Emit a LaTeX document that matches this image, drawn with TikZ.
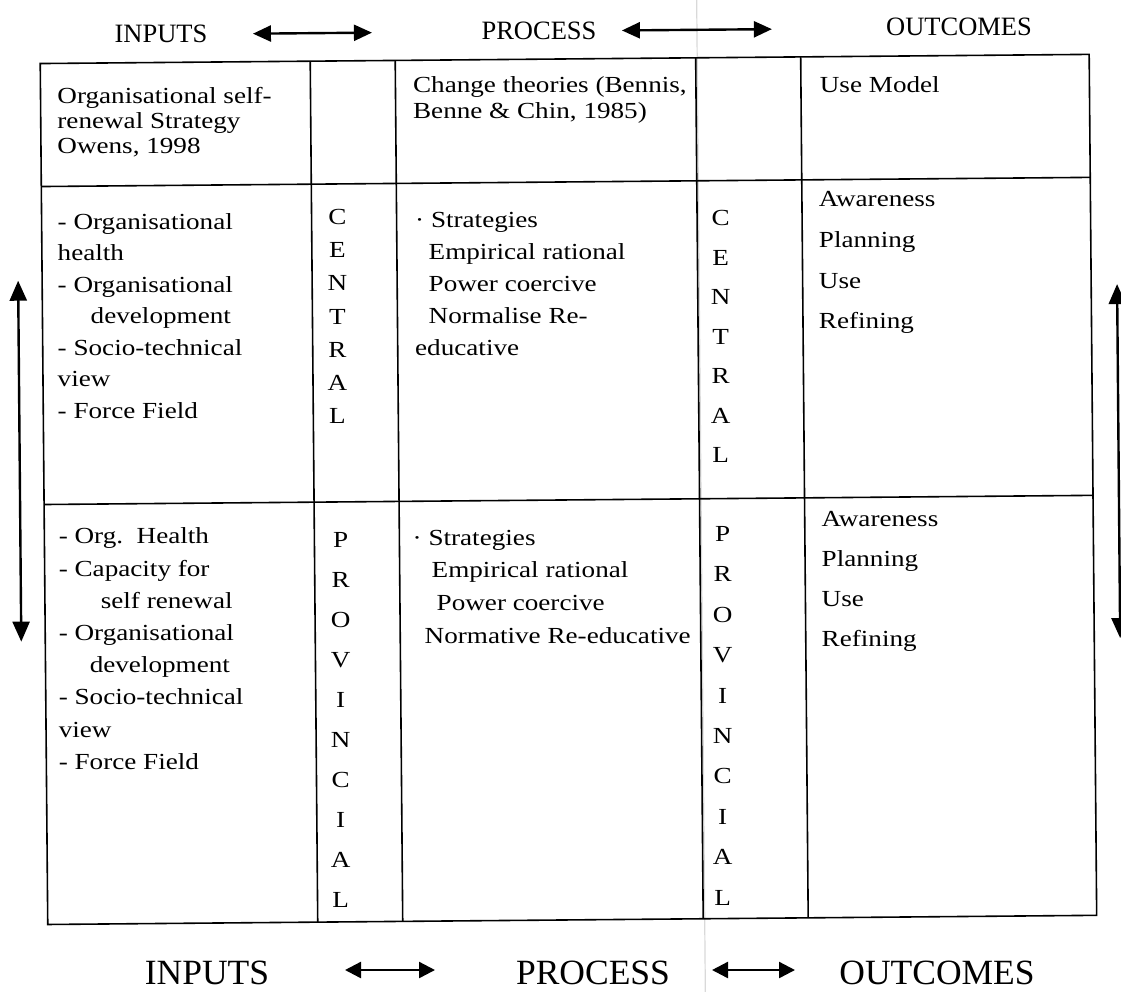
\documentclass[tikz,border=0pt]{standalone}
\usepackage{fontspec}
\setmainfont[FakeStretch=1.18]{Liberation Serif}
\newfontfamily\headfont{Liberation Serif}
\usetikzlibrary{arrows.meta,positioning}

\begin{document}
\begin{tikzpicture}[x=1pt, y=-1pt, thick, >={Triangle[length=18pt,width=16pt]}]
	\tikzset{
		head/.style={inner sep=0pt, anchor=base, font=\headfont\fontsize{26.5}{30}\selectfont},
		foot/.style={inner sep=0pt, anchor=base, font=\headfont\fontsize{35.5}{40}\selectfont},
		% multi-line cells are placed by the baseline of their last line
		cell/.style={inner sep=0pt, anchor=base west, align=left, font=\fontsize{23}{#1}\selectfont},
		letters/.style={inner sep=0pt, anchor=base, align=center, font=\fontsize{23}{#1}\selectfont},
		grid/.style={line width=1.6pt},
		link/.style={<->, line width=2.4pt}
	}
	\useasboundingbox (0,0) rectangle (1121,991);

	% the sheet sits a little askew
	\begin{scope}[rotate around={0.5:(560,495)}]
		% fold in the paper
		\draw[gray!30, line width=1.2pt] (701,-20) -- (701,1010);

		% headings
		\node[head] (inputs) at (165,39) {INPUTS};
		\node[head] (process) at (543,39) {PROCESS};
		\node[head] (outcomes) at (963,39) {OUTCOMES};
		\coordinate (a1) at (257,31);
		\coordinate (a2) at (376,31);
		\coordinate (a3) at (626,31);
		\coordinate (a4) at (776,31);
		\draw[link] (a1) -- (a2);
		\draw[link] (a3) -- (a4);

		% table
		\draw[grid] (44,59) rectangle (1093,920);
		\draw[grid] (44,182) -- (1093,182);
		\draw[grid] (44,500) -- (1093,500);
		\foreach \x in {314,399,699.5,804.5}
			\draw[grid] (\x,59) -- (\x,920);

		% top row
		\node[cell=25] (owens) at (60,149) {Organisational self-\\renewal Strategy\\Owens, 1998};
		\node[cell=26] (bennis) at (416,117) {Change theories (Bennis,\\Benne \& Chin, 1985)};
		\node[cell=26] (usemodel) at (823,95) {Use Model};

		% central level
		\node[cell=31.5] (inCentral) at (58,414) {- Organisational\\health\\- Organisational\\\hspace*{33pt}development\\- Socio-technical\\view\\- Force Field};
		\node[letters=33.3] (central1) at (338,422) {C\\E\\N\\T\\R\\A\\L};
		\node[cell=32] (prCentral) at (416,354) {· Strategies\\\hspace*{13.5pt}Empirical rational\\\hspace*{13.5pt}Power coercive\\\hspace*{13.5pt}Normalise Re-\\educative};
		\node[letters=39.5] (central2) at (721,464) {C\\E\\N\\T\\R\\A\\L};
		\node[cell=40.7] (outCentral) at (820,331) {Awareness\\Planning\\Use\\Refining};

		% provincial level
		\node[cell=32.2] (inProv) at (56,765) {- Org.\ \ Health\\- Capacity for\\\hspace*{42pt}self renewal\\- Organisational\\\hspace*{31pt}development\\- Socio-technical\\view\\- Force Field};
		\node[letters=40] (prov1) at (337,906) {P\\R\\O\\V\\I\\N\\C\\I\\A\\L};
		\node[cell=32.7] (prProv) at (411,642) {· Strategies\\\hspace*{19pt}Empirical rational\\\hspace*{24pt}Power coercive\\\hspace*{12pt}Normative Re-educative};
		\node[letters=40.4] (prov2) at (719,906.6) {P\\R\\O\\V\\I\\N\\C\\I\\A\\L};
		\node[cell=40] (outProv) at (820,649) {Awareness\\Planning\\Use\\Refining};

		% side arrows
		\coordinate (l1) at (20,276);
		\coordinate (l2) at (20,637);
		\coordinate (r1) at (1119,289);
		\coordinate (r2) at (1119,643);
		\draw[link, >={Triangle[length=20pt,width=17pt]}] (l1) -- (l2);
		\draw[link, >={Triangle[length=20pt,width=17pt]}] (r1) -- (r2);
	\end{scope}

	% footer
	\node[foot] (inputsB) at (207,984) {INPUTS};
	\node[foot] (processB) at (593,984) {PROCESS};
	\node[foot] (outcomesB) at (937,984) {OUTCOMES};
	\coordinate (b1) at (345,970);
	\coordinate (b2) at (435,970);
	\coordinate (b3) at (712,970);
	\coordinate (b4) at (795,970);
	\draw[link, >={Triangle[length=16pt,width=16pt]}] (b1) -- (b2);
	\draw[link, >={Triangle[length=16pt,width=16pt]}] (b3) -- (b4);
\end{tikzpicture}
\end{document}
